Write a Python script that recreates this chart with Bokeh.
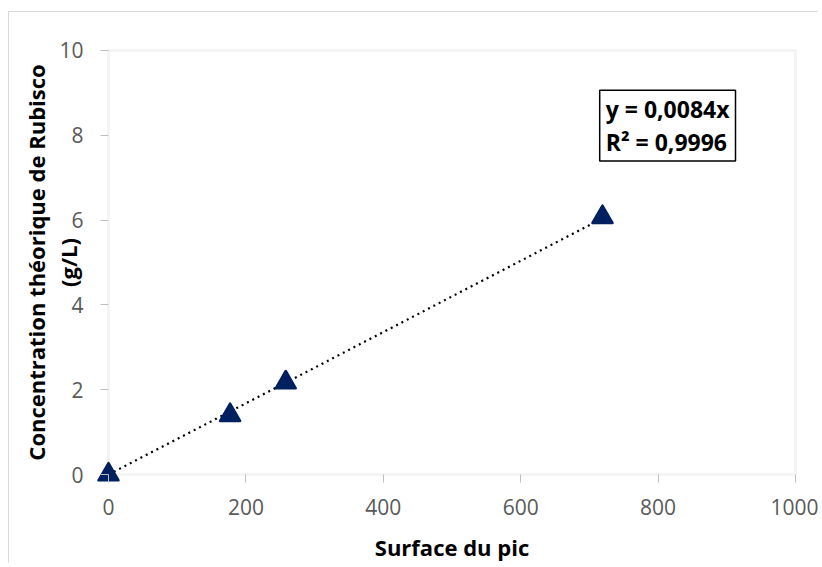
import numpy as np
from bokeh.plotting import figure
from bokeh.models import Label, Range1d, FixedTicker, BoxAnnotation
from bokeh.embed import file_html
from bokeh.resources import INLINE

surface = [0, 177, 258, 719]
concentration = [0.0, 1.40, 2.17, 6.07]
x_ticks = [0, 200, 400, 600, 800, 1000]
y_ticks = [0, 2, 4, 6, 8, 10]
x_lim = (0, 1000)
y_lim = (0, 10)
x_title = "Surface du pic"
y_title = "Concentration théorique de Rubisco\n(g/L)"
equation = "y = 0,0084x\nR² = 0,9996"
slope = 0.0084

FONT = "Open Sans"
GRID = "#d9d9d9"

# frame padded by 14px on every side so markers on the axes are not clipped
PAD = 14
FX = 687  # px for the x span
FY = 427  # px for the y span
ux = (x_lim[1] - x_lim[0]) / FX  # data units per px
uy = (y_lim[1] - y_lim[0]) / FY

p = figure(width=810, height=552, output_backend="svg", toolbar_location=None,
           x_range=Range1d(x_lim[0] - PAD * ux, x_lim[1] + PAD * ux),
           y_range=Range1d(y_lim[0] - PAD * uy, y_lim[1] + PAD * uy),
           min_border_left=85, min_border_right=10, min_border_top=24, min_border_bottom=73)
p.styles = {"margin-left": "8px", "margin-top": "11px",
            "border-left": "1px solid #d9d9d9", "border-top": "1px solid #d9d9d9"}

p.xgrid.visible = False
p.ygrid.visible = False
p.outline_line_color = None

box = BoxAnnotation(left=x_lim[0], right=x_lim[1], bottom=y_lim[0], top=y_lim[1],
                    fill_alpha=0, line_color=GRID, line_width=3, level="underlay")
p.add_layout(box)

for ax in (p.xaxis, p.yaxis):
    ax.axis_line_color = None
    ax.major_tick_line_color = "#bfbfbf"
    ax.major_tick_line_width = 1
    ax.major_tick_in = PAD
    ax.major_tick_out = -6
    ax.minor_tick_line_color = None
    ax.major_label_text_font = FONT
    ax.major_label_text_font_size = "21px"
    ax.major_label_text_color = "#595959"
    ax.axis_label_text_font = FONT
    ax.axis_label_text_font_size = "22px"
    ax.axis_label_text_font_style = "bold"
    ax.axis_label_text_color = "#000000"

p.xaxis.ticker = FixedTicker(ticks=x_ticks)
p.yaxis.ticker = FixedTicker(ticks=y_ticks)
p.xaxis.major_label_standoff = 10
p.yaxis.major_label_standoff = 11
p.xaxis.axis_label = x_title
p.xaxis.axis_label_standoff = 14
p.yaxis.axis_label = y_title
p.yaxis.axis_label_standoff = -27
p.yaxis.axis_label_text_line_height = 1.07

xs = np.array(surface, dtype=float)
trend_x = [float(xs.min()), float(xs.max())]
trend_y = [slope * v for v in trend_x]
p.line(trend_x, trend_y, line_color="black", line_width=2.2, line_dash="2 4")

p.scatter(surface, concentration, marker="triangle", size=20,
          fill_color="#002060", line_color="#002060", line_width=2.5, line_join="round")

lab = Label(x=715, y=9.06, text=equation, text_font=FONT, text_font_size="23px",
            text_font_style="bold", text_color="black", anchor="top_left",
            text_line_height=1.02,
            border_line_color="black", border_line_width=1.5,
            background_fill_color="white",
            padding=dict(left=6, right=6, top=3, bottom=3))
p.add_layout(lab)

open("out.html", "w").write(file_html(p, INLINE))
